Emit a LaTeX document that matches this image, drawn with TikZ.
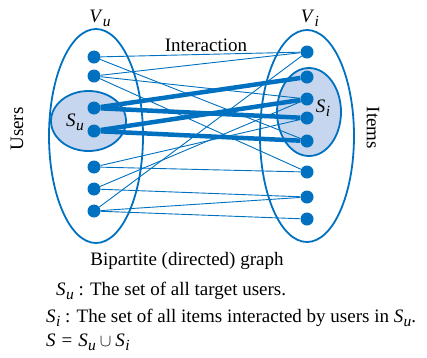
\documentclass[tikz,border=0pt]{standalone}
\usepackage{fontspec}
\setmainfont{Liberation Serif}
\usetikzlibrary{shapes.geometric}
\definecolor{cblue}{RGB}{0,112,192}
\definecolor{clight}{RGB}{198,214,238}
\newcommand{\msub}[2]{\textit{#1}\kern0.3pt\raisebox{-0.45ex}{\fontsize{15.5}{15}\selectfont\textit{#2}}}
\begin{document}
\begin{tikzpicture}[x=1pt,y=-1pt,
  dot/.style={circle,fill=cblue,inner sep=0pt,minimum size=13pt},
  bigset/.style={ellipse,draw=cblue,line width=1.8pt,inner sep=0pt},
  subset/.style={ellipse,draw=cblue,fill=clight,line width=1.8pt,inner sep=0pt},
  edgethin/.style={cblue,line width=0.9pt},
  edgethick/.style={cblue,line width=4.5pt},
  txt/.style={font=\fontsize{19}{22}\selectfont,inner sep=0pt}]
\useasboundingbox (0,0) rectangle (427,357);
% sets
\node[bigset,minimum width=94pt,minimum height=214pt] (Vu) at (96,136) {};
\node[bigset,minimum width=94pt,minimum height=212pt] (Vi) at (307,136) {};
\node[subset,minimum width=75pt,minimum height=60pt] (Su) at (88.5,121) {};
\node[subset,minimum width=64pt,minimum height=88pt] (Si) at (309,112) {};
% user nodes
\node[dot] (L1) at (94,57) {};
\node[dot] (L2) at (94,76) {};
\node[dot] (L3) at (94,108) {};
\node[dot] (L4) at (94,131) {};
\node[dot] (L5) at (94,167) {};
\node[dot] (L6) at (94,189) {};
\node[dot] (L7) at (94,211) {};
% item nodes
\node[dot] (R1) at (307,52) {};
\node[dot] (R2) at (307,77) {};
\node[dot] (R3) at (307,99) {};
\node[dot] (R4) at (307,118) {};
\node[dot] (R5) at (307,141) {};
\node[dot] (R6) at (307,172) {};
\node[dot] (R7) at (307,197) {};
\node[dot] (R8) at (307,219) {};
% thin edges
\draw[edgethin] (L1) -- (R1);
\draw[edgethin] (L1) -- (R5);
\draw[edgethin] (L2) -- (R1);
\draw[edgethin] (L2) -- (R3);
\draw[edgethin] (L2) -- (R6);
\draw[edgethin] (L5) -- (R4);
\draw[edgethin] (L5) -- (R6);
\draw[edgethin] (L6) -- (R3);
\draw[edgethin] (L6) -- (R7);
\draw[edgethin] (L7) -- (R1);
\draw[edgethin] (L7) -- (R7);
\draw[edgethin] (L7) -- (R8);
% thick edges
\draw[edgethick] (L3) -- (R2);
\draw[edgethick] (L3) -- (R4);
\draw[edgethick] (L4) -- (R3);
\draw[edgethick] (L4) -- (R5);
% labels
\node[txt] (lVu) at (100,18) {\msub{V}{u}};
\node[txt] (lVi) at (310,18) {\msub{V}{i}};
\node[txt] (lSu) at (75,122) {\msub{S}{u}};
\node[txt] (lSi) at (323,108) {\msub{S}{i}};
\node[txt] (inter) at (206,45) {Interaction};
\node[txt,rotate=90] (users) at (17,129) {Users};
\node[txt,rotate=-90] (items) at (373,128) {Items};
\node[txt] (bip) at (187,261) {Bipartite (directed) graph};
\node[txt,anchor=west] (t1) at (56,291) {\msub{S}{u} : The set of all target users.};
\node[txt,anchor=west] (t2) at (46,318) {\msub{S}{i} : The set of all items interacted by users in \msub{S}{u}.};
\node[txt,anchor=west] (t3) at (46,342) {\textit{S}\kern6pt=\kern6pt\msub{S}{u}\kern4pt$\cup$\kern4pt\msub{S}{i}};
\end{tikzpicture}
\end{document}
